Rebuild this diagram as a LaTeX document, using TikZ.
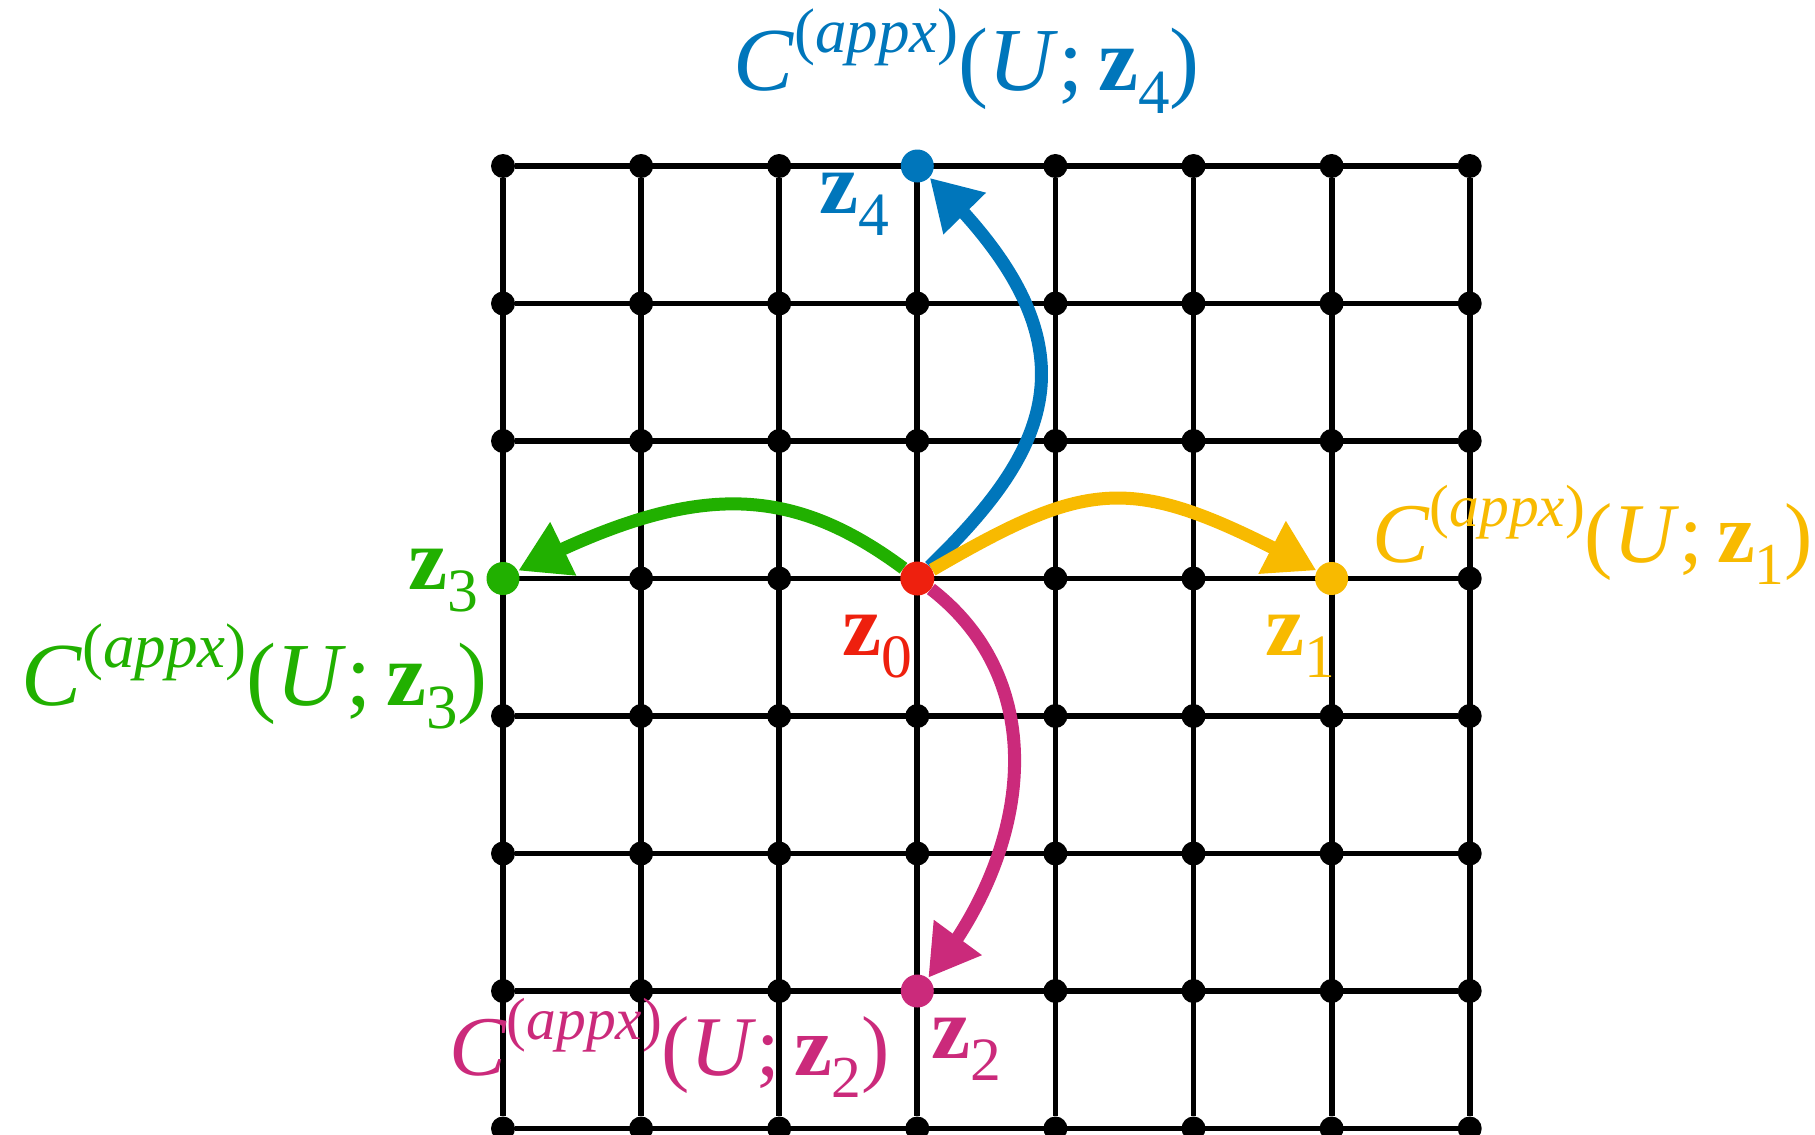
\documentclass[tikz,border=0pt]{standalone}
\usepackage{graphicx}
\usepackage{fontspec}
\setmainfont{Liberation Serif}
\usetikzlibrary{arrows.meta,bending}
\definecolor{zblue}{HTML}{0076BB}
\definecolor{zyellow}{HTML}{F8BA00}
\definecolor{zgreen}{HTML}{21B000}
\definecolor{zmag}{HTML}{CB2A7B}
\definecolor{zred}{HTML}{EE200E}
\newcommand\capx[1]{\textit{C\/}\raisebox{0.42em}{\scalebox{0.7}{(\textit{appx\/})}}(\textit{U\/};\,\textbf{z}\raisebox{-0.26em}{\scalebox{0.7}{#1}})}
\newcommand\zlab[1]{\textbf{z}\raisebox{-0.26em}{\scalebox{0.7}{#1}}}
\begin{document}
\begin{tikzpicture}[x=1pt,y=-1pt,
  gridline/.style={line width=5.8pt},
  bdot/.style={circle,fill=black,inner sep=0pt,minimum size=24pt},
  cnode/.style={circle,inner sep=0pt,minimum size=34pt},
  carc/.style={line width=13pt,draw=#1,-{Triangle[length=50pt,width=56pt,color=#1]}},
  lab/.style={inner sep=0pt,anchor=base west,text=#1},
  big/.style={font=\fontsize{90}{100}\selectfont},
  mid/.style={font=\fontsize{85}{95}\selectfont},
  sml/.style={font=\fontsize{88}{98}\selectfont}]
\useasboundingbox (0,0) rectangle (1815,1135);
% grid dots
\foreach \i in {0,...,7}{
  \foreach \j in {0,...,7}{
    \node[bdot] (g\i\j) at ({503+138.1*\i},{166+137.5*\j}) {};
  }
}
% grid lines
\foreach \i in {0,...,7}{
  \draw[gridline] (g\i0) -- (g\i7);
  \draw[gridline] (g0\i) -- (g7\i);
}
% coloured points
\node[cnode] (z0) at (g33) {};
\node[cnode] (z1) at (g63) {};
\node[cnode] (z2) at (g36) {};
\node[cnode] (z3) at (g03) {};
\node[cnode] (z4) at (g30) {};
% curves
\draw[carc=zblue] (z0) .. controls (1050,450) and (1105,345) .. (z4);
\draw[carc=zyellow] (z0) .. controls (1097,474) and (1135,474) .. (z1);
\draw[carc=zgreen] (z0) .. controls (787,482) and (691,482) .. (z3);
\draw[carc=zmag] (z0) .. controls (1055,685) and (1030,855) .. (z2);
% dots on top
\fill[zred] (z0.center) circle[radius=17pt];
\fill[zyellow] (z1.center) circle[radius=16.5pt];
\fill[zmag] (z2.center) circle[radius=16.5pt];
\fill[zgreen] (z3.center) circle[radius=16.5pt];
\fill[zblue] (z4.center) circle[radius=16.5pt];
% labels
\node[lab=zblue,big] (c4) at (733,90) {\capx{4}};
\node[lab=zyellow,mid] (c1) at (1372,562) {\capx{1}};
\node[lab=zgreen,big] (c3) at (21,705) {\capx{3}};
\node[lab=zmag,mid] (c2) at (449,1075) {\capx{2}};
\node[lab=zblue,sml] (l4) at (819,213) {\zlab{4}};
\node[lab=zyellow,sml] (l1) at (1265,655) {\zlab{1}};
\node[lab=zgreen,sml] (l3) at (408,589) {\zlab{3}};
\node[lab=zred,sml] (l0) at (842,655) {\zlab{0}};
\node[lab=zmag,sml] (l2) at (931,1058) {\zlab{2}};
\end{tikzpicture}
\end{document}
